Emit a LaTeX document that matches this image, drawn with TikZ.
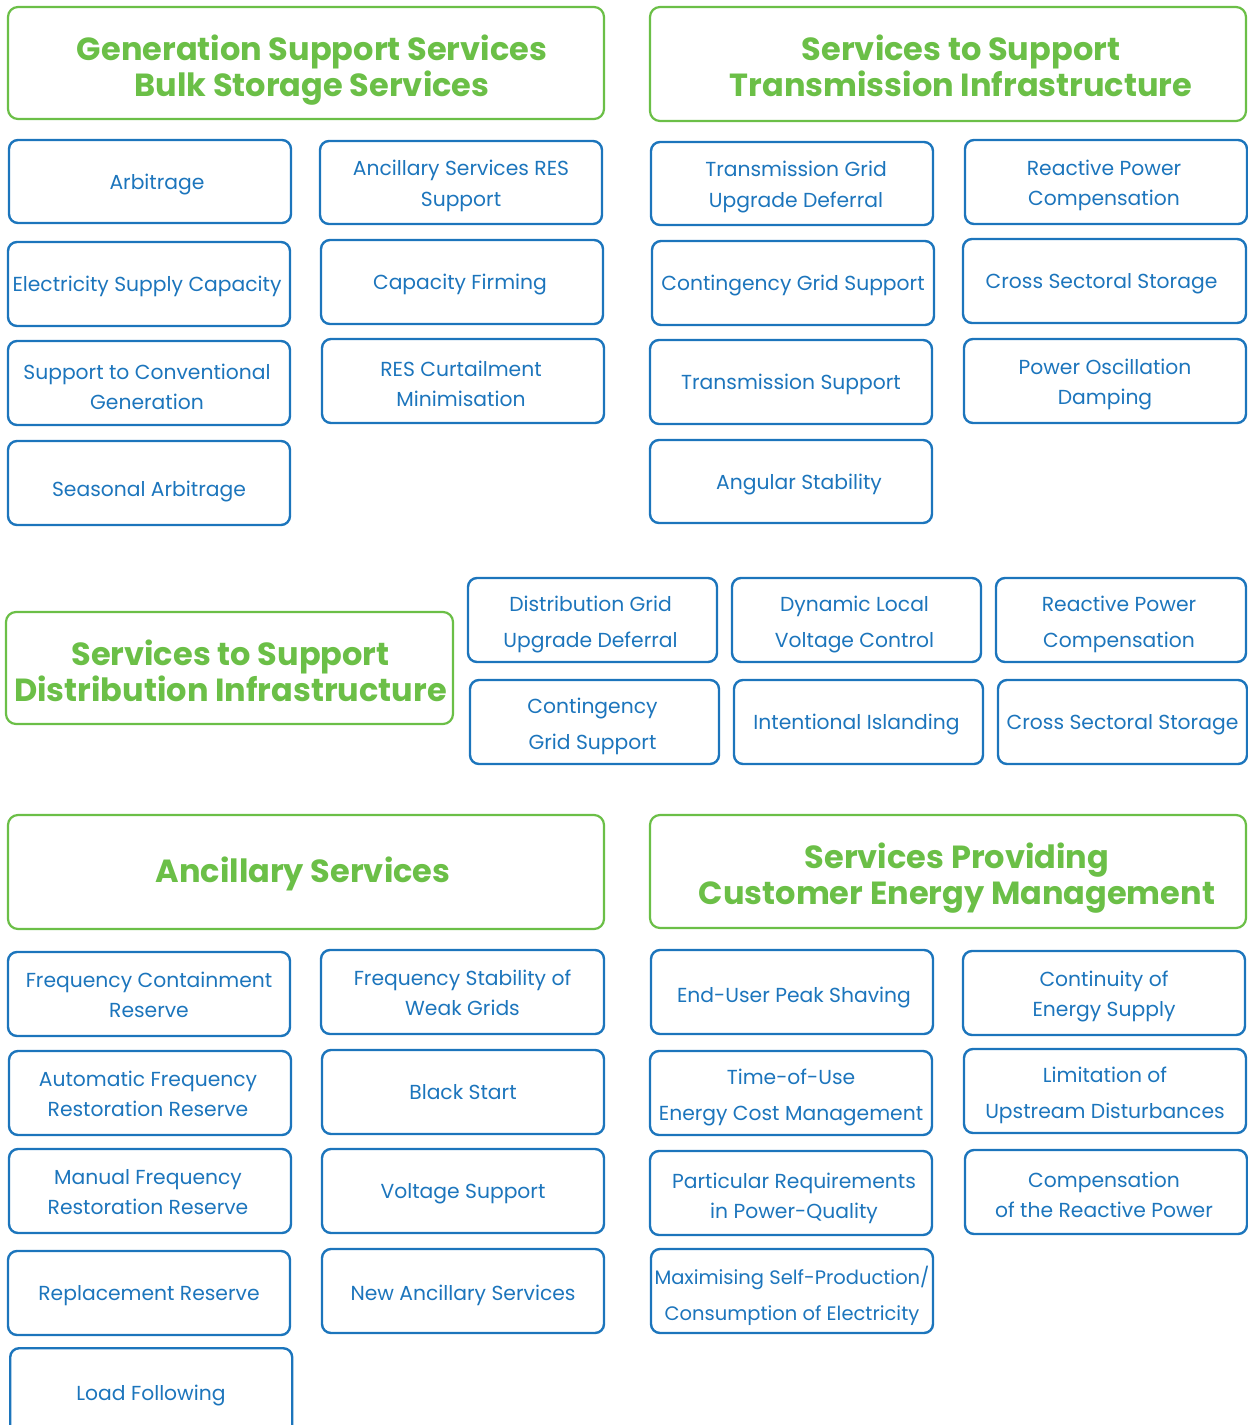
\documentclass[tikz,border=0pt]{standalone}
\usepackage{fontspec}
\setmainfont{Poppins}
\definecolor{gr}{HTML}{6BBF47}
\definecolor{bl}{HTML}{1C75BC}
\tikzset{
 every node/.style={inner sep=0pt, align=center},
 blbox/.style={draw=bl, line width=2.4pt, rounded corners=9pt},
 grbox/.style={draw=gr, line width=2.2pt, rounded corners=10pt},
 bltext/.style={text=bl, font=\fontsize{20.3}{30.5}\selectfont, execute at begin node=\strut, execute at end node=\strut},
 tl/.style={yshift=-4pt},
 wide/.style={font=\fontsize{20.3}{36}\selectfont, yshift=-5.5pt},
 grtext/.style={text=gr, font=\fontsize{32}{36}\selectfont\bfseries, execute at begin node=\strut, execute at end node=\strut},
}
\newcommand\bx[7][]{\node[blbox, minimum width={#5-#3}, minimum height={#6-#4}] (#2) at ({(#3+#5)/2},{(#4+#6)/2}) {};
  \node[bltext, yshift=-1.5pt, #1] (#2t) at (#2.center) {#7};}
\newcommand\hd[7][]{\node[grbox, minimum width={#5-#3}, minimum height={#6-#4}] (#2) at ({(#3+#5)/2},{(#4+#6)/2}) {};
  \node[grtext, yshift=-8pt, #1] (#2t) at (#2.center) {#7};}
\begin{document}
\begin{tikzpicture}[x=1pt,y=-1pt]
\useasboundingbox (0,0) rectangle (1248,1425);
\clip (0,0) rectangle (1248,1425);
% headers
\hd[xshift=6pt]{h1}{8}{7}{604}{119}{Generation Support Services\\Bulk Storage Services}
\hd[xshift=13pt,yshift=1pt]{h2}{650}{7}{1246}{121}{Services to Support\\Transmission Infrastructure}
\hd[xshift=1pt]{h3}{6}{612}{453}{724}{Services to Support\\Distribution Infrastructure}
\hd[xshift=-3pt,yshift=5pt]{h4}{8}{815}{604}{929}{Ancillary Services}
\hd[xshift=9pt]{h5}{650}{815}{1246}{928}{Services Providing\\Customer Energy Management}
% generation
\bx[xshift=7pt]{a1}{9}{140}{291}{223}{Arbitrage}
\bx[tl]{a2}{320}{141}{602}{224}{Ancillary Services RES\\Support}
\bx[xshift=-2pt]{a3}{8}{242}{290}{326}{Electricity Supply Capacity}
\bx[xshift=-2pt]{a4}{321}{240}{603}{324}{Capacity Firming}
\bx[tl,xshift=-2pt,yshift=-3pt]{a5}{8}{341}{290}{425}{Support to Conventional\\Generation}
\bx[tl,xshift=-2pt,yshift=-2pt]{a6}{322}{339}{604}{423}{RES Curtailment\\Minimisation}
\bx[yshift=-6pt]{a7}{8}{441}{290}{525}{Seasonal Arbitrage}
% transmission
\bx[tl,xshift=4pt]{b1}{651}{142}{933}{225}{Transmission Grid\\Upgrade Deferral}
\bx[tl,xshift=-2pt]{b2}{965}{140}{1247}{224}{Reactive Power\\Compensation}
\bx{b3}{652}{241}{934}{325}{Contingency Grid Support}
\bx[xshift=-3pt]{b4}{963}{239}{1246}{323}{Cross Sectoral Storage}
\bx{b5}{650}{340}{932}{424}{Transmission Support}
\bx[tl]{b6}{964}{339}{1246}{423}{Power Oscillation\\Damping}
\bx[xshift=8pt]{b7}{650}{440}{932}{523}{Angular Stability}
% distribution
\bx[wide,xshift=-2pt]{c1}{468}{578}{717}{662}{Distribution Grid\\Upgrade Deferral}
\bx[wide,xshift=-2pt]{c2}{732}{578}{981}{662}{Dynamic Local\\Voltage Control}
\bx[wide,xshift=-2pt]{c3}{996}{578}{1246}{662}{Reactive Power\\Compensation}
\bx[wide,xshift=-2pt]{c4}{470}{680}{719}{764}{Contingency\\Grid Support}
\bx[xshift=-2pt]{c5}{734}{680}{983}{764}{Intentional Islanding}
\bx{c6}{998}{680}{1247}{764}{Cross Sectoral Storage}
% ancillary
\bx[tl]{d1}{8}{952}{290}{1036}{Frequency Containment\\Reserve}
\bx[tl]{d2}{321}{950}{604}{1034}{Frequency Stability of\\Weak Grids}
\bx[tl,xshift=-2pt]{d3}{9}{1051}{291}{1135}{Automatic Frequency\\Restoration Reserve}
\bx{d4}{322}{1050}{604}{1134}{Black Start}
\bx[tl,xshift=-2pt]{d5}{9}{1149}{291}{1233}{Manual Frequency\\Restoration Reserve}
\bx{d6}{322}{1149}{604}{1233}{Voltage Support}
\bx{d7}{8}{1251}{290}{1335}{Replacement Reserve}
\bx[yshift=-2pt]{d8}{322}{1249}{604}{1333}{New Ancillary Services}
\node[blbox, minimum width=282, minimum height=100, anchor=north west] (d9) at (9,1347) {};
\node[bltext] (d9t) at (151,1394) {Load Following};
% customer
\bx[xshift=2pt,yshift=-3pt]{e1}{651}{950}{933}{1034}{End-User Peak Shaving}
\bx[tl]{e2}{963}{951}{1245}{1035}{Continuity of\\Energy Supply}
\bx[wide]{e3}{650}{1051}{932}{1135}{Time-of-Use\\Energy Cost Management}
\bx[wide]{e4}{964}{1049}{1246}{1133}{Limitation of\\Upstream Disturbances}
\bx[tl,xshift=3pt,yshift=-2pt]{e5}{650}{1151}{932}{1235}{Particular Requirements\\in Power-Quality}
\bx[tl,xshift=-2pt,yshift=-2pt]{e6}{965}{1150}{1247}{1234}{Compensation\\of the Reactive Power}
\bx[wide,yshift=-1pt,font=\fontsize{19.5}{36}\selectfont]{e7}{651}{1249}{933}{1333}{Maximising Self-Production/\\Consumption of Electricity}
\end{tikzpicture}
\end{document}
